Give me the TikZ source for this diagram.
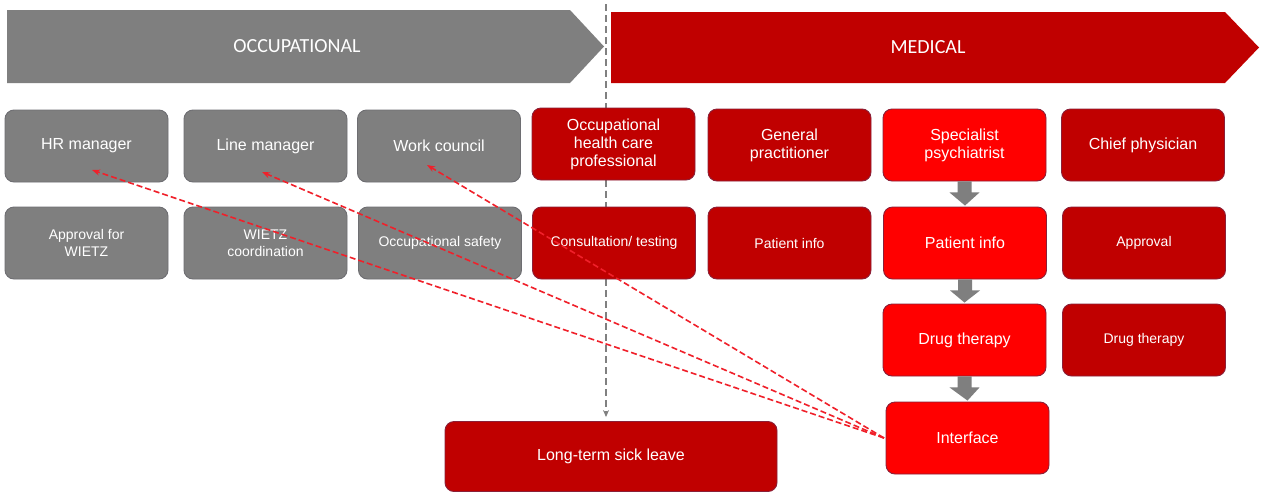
\documentclass[tikz,border=0pt]{standalone}
\usepackage{fontspec}
\setmainfont{Liberation Sans}
\newfontfamily\bannerfont{Carlito}
\usetikzlibrary{calc,arrows.meta,backgrounds}

\definecolor{occgray}{HTML}{7F7F7F}
\definecolor{occedge}{HTML}{6E6E72}
\definecolor{meddark}{HTML}{C00000}
\definecolor{medbright}{HTML}{FF0000}
\definecolor{rededge}{HTML}{8A2038}
\definecolor{linkred}{HTML}{F0202A}
\definecolor{guidegray}{HTML}{808080}

\tikzset{
  box/.style={rounded corners=9pt, minimum width=163pt, minimum height=72pt,
    inner sep=2pt, align=center, text=white, line width=0.9pt,
    font=\fontsize{16}{18}\selectfont},
  graybox/.style={box, fill=occgray, draw=occedge},
  darkbox/.style={box, fill=meddark, draw=rededge},
  brightbox/.style={box, fill=medbright, draw=rededge},
  small/.style={font=\fontsize{14}{17}\selectfont},
  link/.style={draw=linkred, line width=1.6pt, dash pattern=on 6pt off 3pt,
    -{Stealth[length=8pt,width=6pt]}},
  guide/.style={draw=guidegray, line width=1.6pt, dash pattern=on 7pt off 4pt,
    -{Stealth[length=7pt,width=6pt]}},
  banner/.style={font=\bannerfont\fontsize{20}{24}\selectfont, text=white}
}

\newcommand\flowarrow[2]{%
  \fill[occgray] ($(#1.south)+(-7,0)$) -- ($(#1.south)+(-7,11)$) --
    ($(#1.south)+(-15,11)$) -- ($(#2.north)+(0,-1)$) --
    ($(#1.south)+(15,11)$) -- ($(#1.south)+(7,11)$) --
    ($(#1.south)+(7,0)$) -- cycle;}

\begin{document}
\begin{tikzpicture}[x=1pt,y=-1pt]
\useasboundingbox (0,0) rectangle (1261,496);

% phase banners
\fill[occgray] (7,10) -- (570,10) -- (604,46.5) -- (570,83) -- (7,83) -- cycle;
\fill[meddark] (611,12) -- (1225,12) -- (1259,47.5) -- (1225,83) -- (611,83) -- cycle;
\node[banner] (occ) at (297,46.5) {OCCUPATIONAL};
\node[banner] (med) at (928,47.5) {MEDICAL};

% row 1: actors
\node[graybox]   (hr)   at (86.5,146)  {HR manager};
\node[graybox]   (line) at (265.5,146) {Line manager};
\node[graybox]   (wc)   at (439,146)   {Work council};
\node[darkbox]   (ohp)  at (613.5,144) {Occupational\\health care\\professional};
\node[darkbox]   (gp)   at (789.5,145) {General\\practitioner};
\node[brightbox] (sp)   at (964.5,145) {Specialist\\psychiatrist};
\node[darkbox]   (cp)   at (1143,145)  {Chief physician};

% row 2: tasks
\node[graybox,small]  (apw)  at (86.5,243)  {Approval for\\WIETZ};
\node[graybox,small]  (wco)  at (265.5,243) {WIETZ\\coordination};
\node[graybox,small]  (osa)  at (440,243)   {Occupational safety};
\node[darkbox,small]  (cons) at (614,243)   {Consultation/ testing};
\node[darkbox,small]  (pigp) at (789.5,243) {Patient info};
\node[brightbox]      (pisp) at (965,243)   {Patient info};
\node[darkbox,small]  (appr) at (1144,243)  {Approval};

% row 3
\node[brightbox]      (dtsp) at (964.5,340) {Drug therapy};
\node[darkbox,small]  (dtcp) at (1144,340)  {Drug therapy};

% bottom row
\node[brightbox] (intf) at (967.5,438) {Interface};
\node[darkbox, minimum width=332pt, minimum height=70pt] (ltsl) at (611,456.5) {Long-term sick leave};

% psychiatric path
\flowarrow{sp}{pisp}
\flowarrow{pisp}{dtsp}
\flowarrow{dtsp}{intf}

% boundary between occupational and medical side, behind the boxes
\coordinate (divtop) at (606,4);
\begin{scope}[on background layer]
  \fill[white] (0,0) rectangle (1261,496);
  \draw[guide] (divtop) -- ($(divtop |- ltsl.north)+(0,-4)$);
\end{scope}

% links from the interface back to the company
\coordinate (ifl) at (884,438);
\draw[link] (ifl) -- (92,170);
\draw[link] (ifl) -- (262,172);
\draw[link] (ifl) -- (427,165);
\end{tikzpicture}
\end{document}
